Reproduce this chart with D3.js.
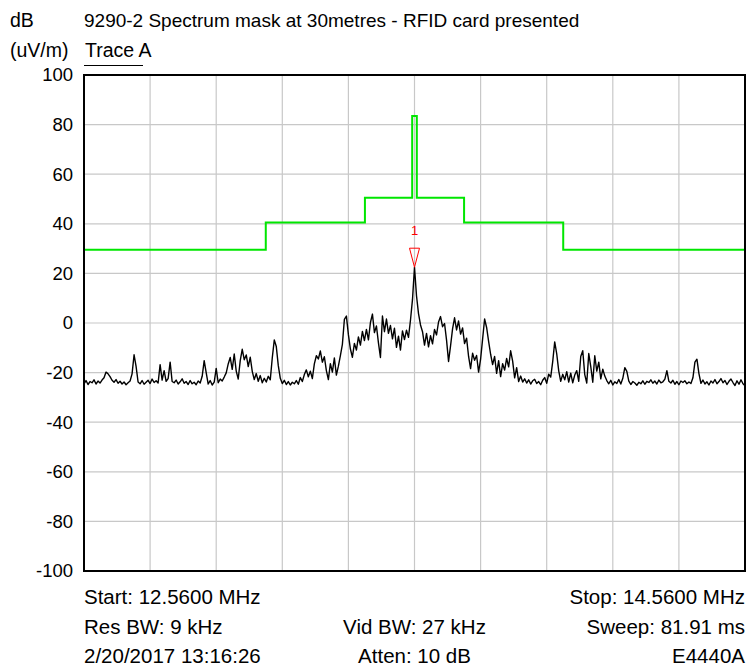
<!DOCTYPE html>
<html>
<head>
<meta charset="utf-8">
<script src="https://cdn.jsdelivr.net/npm/d3@7"></script>
<style>
  body { margin: 0; background: #fff; }
  svg text { font-family: "Liberation Sans", Arial, sans-serif; fill: #000; }
</style>
</head>
<body>
<div id="chart"></div>
<script>
var startMHz = 12.56;
var stopMHz = 14.56;
var yTicks = [100, 80, 60, 40, 20, 0, -20, -40, -60, -80, -100];

// spectrum mask: level applies from each freq up to the next one
var maskFreq = [12.56, 13.11, 13.41, 13.553, 13.567, 13.71, 14.01, 14.56];
var maskLevel = [29.5, 40.5, 50.5, 83.5, 50.5, 40.5, 29.5, 29.5];

// trace A, dB(uV/m), evenly spaced over the sweep
var trace = [
  -24.5,-23.2,-24.8,-23.6,-24.1,-22.9,-24.6,-23.4,-24.2,-23.0,-22.1,
  -19.8,-20.5,-21.6,
  -23.1,-23.9,-22.8,-24.3,-23.5,-24.6,-23.8,-24.9,-24.1,-23.4,
  -20.5,-12.8,-17.5,
  -23.8,-24.5,-23.2,-24.7,-23.9,-23.1,-24.4,-22.6,-24.0,-23.3,-24.2,
  -16.8,-23.0,-19.2,-23.5,-22.4,-15.8,-23.6,
  -24.1,-23.0,-24.6,-23.7,-22.5,-24.3,-23.6,-24.8,-23.2,-24.5,-23.9,-24.9,-23.4,-24.2,
  -21.5,-15.2,-20.0,
  -24.6,-23.2,-25.0,-23.8,-18.3,-24.1,
  -22.6,-23.4,-21.8,-20.1,-16.5,-13.9,-18.7,-12.5,-19.4,-22.6,-15.2,-10.6,-14.8,-12.9,-17.6,-13.8,
  -19.5,-22.8,-20.4,-23.5,-21.2,-24.1,-22.3,-23.8,-21.5,-22.9,
  -14.0,-6.8,-9.5,-17.2,
  -22.3,-24.4,-23.1,-24.8,-23.6,-25.0,-23.9,-24.5,-23.2,-24.7,
  -22.0,-23.6,-20.8,-18.9,-21.7,-19.4,-22.4,-16.5,-13.2,-14.5,-11.3,-15.8,-13.6,-19.2,-22.8,-16.4,-19.8,-14.1,-21.0,-17.4,-13.2,-8.6,
  1.5,2.8,-4.7,-10.5,-13.8,-8.2,-10.9,-5.6,-8.9,-3.4,-7.1,-2.6,-6.8,0.2,3.6,-3.9,-1.2,-8.0,-13.9,2.8,-3.5,1.6,-4.2,-1.0,-6.4,-2.1,-9.8,-5.3,-10.9,-3.2,-6.7,-2.9,-5.8,
  1.2,9.5,22.5,11.0,3.8,
  -0.8,-3.5,-8.9,-4.2,-9.6,-5.1,-8.4,-2.6,-4.8,0.4,
  2.6,-1.5,-0.2,-6.9,-15.5,-9.2,-2.4,2.1,-2.8,0.8,
  -4.5,-2.0,-8.3,-6.1,-13.5,-18.4,-12.2,-15.0,-13.1,-19.8,
  -14.6,-6.5,1.6,-1.8,-7.4,-12.6,-16.8,-13.5,-20.3,-15.2,
  -21.6,-16.4,-19.0,-14.3,-17.7,-11.2,-15.4,-22.1,-18.0,-23.6,
  -21.4,-23.8,-22.5,-24.2,-22.9,-24.6,-23.3,-22.7,-24.4,-23.6,-24.9,-23.1,-22.0,
  -24.3,-20.6,-21.8,-15.6,-7.6,-12.4,-19.3,-23.5,-20.7,-22.9,
  -19.6,-23.8,-20.2,-24.1,-21.0,-19.2,-23.5,-13.5,-11.2,-20.8,
  -24.2,-12.3,-17.6,-23.9,-13.2,-19.4,-15.8,-22.5,-18.6,-21.4,
  -23.2,
  -24.5,-23.1,-25.0,-23.7,-24.4,-22.8,-24.6,-22.3,-18.0,-19.5,-23.4,
  -24.8,-23.6,-24.2,-25.1,-23.9,-24.5,-23.3,-24.7,-23.5,-24.0,-22.9,-24.3,-23.4,-24.6,-23.0,-24.1,-23.7,-22.6,
  -19.2,-23.5,-24.2,-23.1,-24.7,-23.6,-24.9,-23.4,-24.0,-23.3,-24.5,-23.8,-24.4,-22.1,-15.8,-14.6,-20.4,-24.3,
  -23.0,-24.6,-23.7,-25.0,-23.4,-24.2,-22.8,-24.5,-23.6,-22.4,-24.1,-23.2,-24.8,-23.5,-22.6,-24.0,-25.2,-23.3,-24.7,-22.9,-24.5,-25.3
];

var marker = { freq: 13.56, level: 22.5, label: "1" };

var footLeft = ["Start: 12.5600 MHz", "Res BW: 9 kHz", "2/20/2017 13:16:26"];
var footMid = ["", "Vid BW: 27 kHz", "Atten: 10 dB"];
var footRight = ["Stop: 14.5600 MHz", "Sweep: 81.91 ms", "E4440A"];

var width = 748, height = 666;
var m = { left: 84, top: 75, right: 3, bottom: 95 };
var w = width - m.left - m.right, h = height - m.top - m.bottom;

var svg = d3.select("#chart").append("svg")
  .attr("width", width)
  .attr("height", height);

var x = d3.scaleLinear().domain([startMHz, stopMHz]).range([m.left, m.left + w]);
var y = d3.scaleLinear().domain([-100, 100]).range([m.top + h, m.top]);

var step = (stopMHz - startMHz) / (trace.length - 1);
var points = trace.map(function(d, i) { return [startMHz + i * step, d]; });

// grid
var gx = d3.range(1, 10).map(function(i) { return startMHz + i * 0.2; });
svg.append("g").selectAll("line").data(gx).enter().append("line")
  .attr("x1", function(d) { return x(d); }).attr("x2", function(d) { return x(d); })
  .attr("y1", y(100)).attr("y2", y(-100))
  .attr("stroke", "#c8c8c8").attr("stroke-width", 1.2);
svg.append("g").selectAll("line").data(yTicks.slice(1, -1)).enter().append("line")
  .attr("x1", x(startMHz)).attr("x2", x(stopMHz))
  .attr("y1", function(d) { return y(d); }).attr("y2", function(d) { return y(d); })
  .attr("stroke", "#c8c8c8").attr("stroke-width", 1.2);

// y axis labels, plain hyphen for negatives
var yAxis = svg.append("g")
  .attr("transform", "translate(" + m.left + ",0)")
  .call(d3.axisLeft(y).tickValues(yTicks).tickSize(0).tickPadding(11)
    .tickFormat(function(d) { return String(d); }));
yAxis.select(".domain").remove();
yAxis.selectAll("text").style("font-size", "18.5px").style("font-family", "Liberation Sans, Arial, sans-serif");

// mask
var maskPts = maskFreq.map(function(f, i) { return [f, maskLevel[i]]; });
svg.append("path")
  .datum(maskPts)
  .attr("fill", "none")
  .attr("stroke", "#00e600")
  .attr("stroke-width", 2)
  .attr("d", d3.line().x(function(d) { return x(d[0]); }).y(function(d) { return y(d[1]); }).curve(d3.curveStepAfter));

// trace
svg.append("path")
  .datum(points)
  .attr("fill", "none")
  .attr("stroke", "#000")
  .attr("stroke-width", 1.4)
  .attr("stroke-linejoin", "round")
  .attr("d", d3.line().x(function(d) { return x(d[0]); }).y(function(d) { return y(d[1]); }));

// marker 1
var mx = x(marker.freq), my = y(marker.level);
svg.append("path")
  .attr("d", "M" + mx + "," + my + "L" + (mx - 5) + "," + (my - 19) + "L" + (mx + 5) + "," + (my - 19) + "Z")
  .attr("fill", "none").attr("stroke", "#ff0000").attr("stroke-width", 1);
svg.append("text")
  .attr("x", mx).attr("y", my - 32)
  .attr("text-anchor", "middle")
  .style("font-size", "13px").style("fill", "#ff0000")
  .text(marker.label);

// frame
svg.append("rect")
  .attr("x", m.left).attr("y", m.top).attr("width", w).attr("height", h)
  .attr("fill", "none").attr("stroke", "#000").attr("stroke-width", 2);

// header
svg.append("text").attr("x", 10).attr("y", 27).style("font-size", "19.5px").text("dB");
svg.append("text").attr("x", 84).attr("y", 27).style("font-size", "19px")
  .text("9290-2 Spectrum mask at 30metres - RFID card presented");
svg.append("text").attr("x", 10).attr("y", 57).style("font-size", "19.5px").text("(uV/m)");
svg.append("text").attr("x", 85).attr("y", 57).style("font-size", "19.5px").text("Trace A");
svg.append("line").attr("x1", 84).attr("x2", 143).attr("y1", 65.5).attr("y2", 65.5)
  .attr("stroke", "#000").attr("stroke-width", 1);

// footer
var rows = [604, 634, 663];
rows.forEach(function(ry, i) {
  svg.append("text").attr("x", x(startMHz)).attr("y", ry).style("font-size", "20.5px").text(footLeft[i]);
  svg.append("text").attr("x", x((startMHz + stopMHz) / 2)).attr("y", ry)
    .attr("text-anchor", "middle").style("font-size", "20.5px").text(footMid[i]);
  svg.append("text").attr("x", x(stopMHz)).attr("y", ry)
    .attr("text-anchor", "end").style("font-size", "20.5px").text(footRight[i]);
});
</script>
</body>
</html>
